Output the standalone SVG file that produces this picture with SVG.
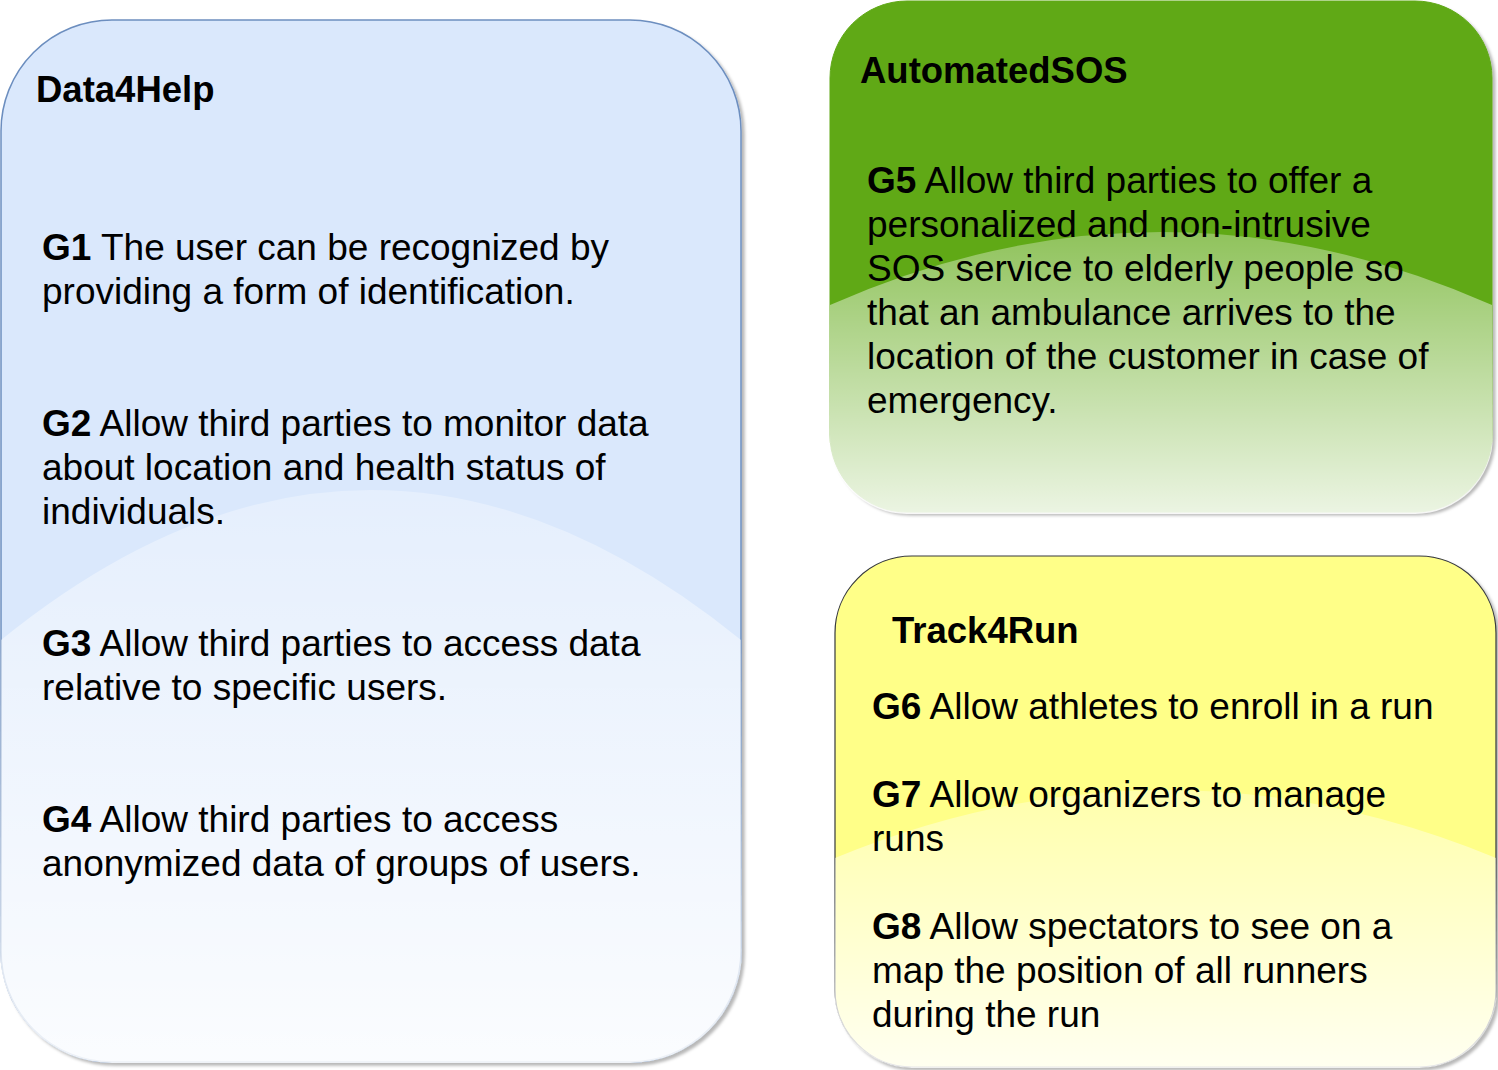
<svg xmlns="http://www.w3.org/2000/svg" width="1498" height="1070" viewBox="0 0 1498 1070">
<defs>
<style>
.title{font-family:"Liberation Sans",Arial,sans-serif;font-size:36.5px;font-weight:bold;fill:#000}
.body{font-family:"Liberation Sans",Arial,sans-serif;font-size:37px;fill:#000}
.b{font-weight:bold}
</style>
<filter id="shadow" x="-5%" y="-5%" width="115%" height="115%">
<feDropShadow dx="3" dy="3" stdDeviation="1.5" flood-color="#000" flood-opacity="0.28"/>
</filter>
<linearGradient id="glass" x1="0" y1="0" x2="0" y2="1">
<stop offset="0" stop-color="#fff" stop-opacity="0.3"/>
<stop offset="1" stop-color="#fff" stop-opacity="0.88"/>
</linearGradient>
<clipPath id="c1"><rect x="0" y="19" width="742" height="1044" rx="112"/></clipPath>
<clipPath id="c2"><rect x="829" y="0" width="664" height="514" rx="78"/></clipPath>
<clipPath id="c3"><rect x="834" y="555" width="663" height="513" rx="78"/></clipPath>
</defs>
<g id="data4help">
<rect x="1" y="20" width="740" height="1042" rx="111" fill="#dae8fc" stroke="#6c8ebf" stroke-width="1.5" filter="url(#shadow)"/>
<path d="M1,640 Q371,340 741,640 L742,1063 L0,1063 Z" fill="url(#glass)" clip-path="url(#c1)"/>
<text class="title" x="36" y="102">Data4Help</text>
<text class="body" x="42"><tspan x="42" y="260"><tspan class="b">G1</tspan> The user can be recognized by</tspan><tspan x="42" y="304">providing a form of identification.</tspan></text>
<text class="body"><tspan x="42" y="436"><tspan class="b">G2</tspan> Allow third parties to monitor data</tspan><tspan x="42" y="480">about location and health status of</tspan><tspan x="42" y="524">individuals.</tspan></text>
<text class="body"><tspan x="42" y="656"><tspan class="b">G3</tspan> Allow third parties to access data</tspan><tspan x="42" y="700">relative to specific users.</tspan></text>
<text class="body"><tspan x="42" y="832"><tspan class="b">G4</tspan> Allow third parties to access</tspan><tspan x="42" y="876">anonymized data of groups of users.</tspan></text>
</g>
<g id="automatedsos">
<rect x="830" y="1" width="662" height="511" rx="77" fill="#60a917" stroke="#60a917" stroke-width="1" filter="url(#shadow)"/>
<path d="M830,305 Q1161,159 1492,305 L1493,514 L829,514 Z" fill="url(#glass)" clip-path="url(#c2)"/>
<text class="title" x="860" y="83">AutomatedSOS</text>
<text class="body"><tspan x="867" y="193"><tspan class="b">G5</tspan> Allow third parties to offer a</tspan><tspan x="867" y="237">personalized and non-intrusive</tspan><tspan x="867" y="281">SOS service to elderly people so</tspan><tspan x="867" y="325">that an ambulance arrives to the</tspan><tspan x="867" y="369">location of the customer in case of</tspan><tspan x="867" y="413">emergency.</tspan></text>
</g>
<g id="track4run">
<rect x="835" y="556" width="661" height="511" rx="77" fill="#ffff88" stroke="#36393d" stroke-width="1.2" filter="url(#shadow)"/>
<path d="M835,858 Q1165,722 1496,858 L1497,1068 L834,1068 Z" fill="url(#glass)" clip-path="url(#c3)"/>
<text class="title" x="892" y="643">Track4Run</text>
<text class="body"><tspan x="872" y="719"><tspan class="b">G6</tspan> Allow athletes to enroll in a run</tspan></text>
<text class="body"><tspan x="872" y="807"><tspan class="b">G7</tspan> Allow organizers to manage</tspan><tspan x="872" y="851">runs</tspan></text>
<text class="body"><tspan x="872" y="939"><tspan class="b">G8</tspan> Allow spectators to see on a</tspan><tspan x="872" y="983">map the position of all runners</tspan><tspan x="872" y="1027">during the run</tspan></text>
</g>
<g id="connectors"/>
</svg>
